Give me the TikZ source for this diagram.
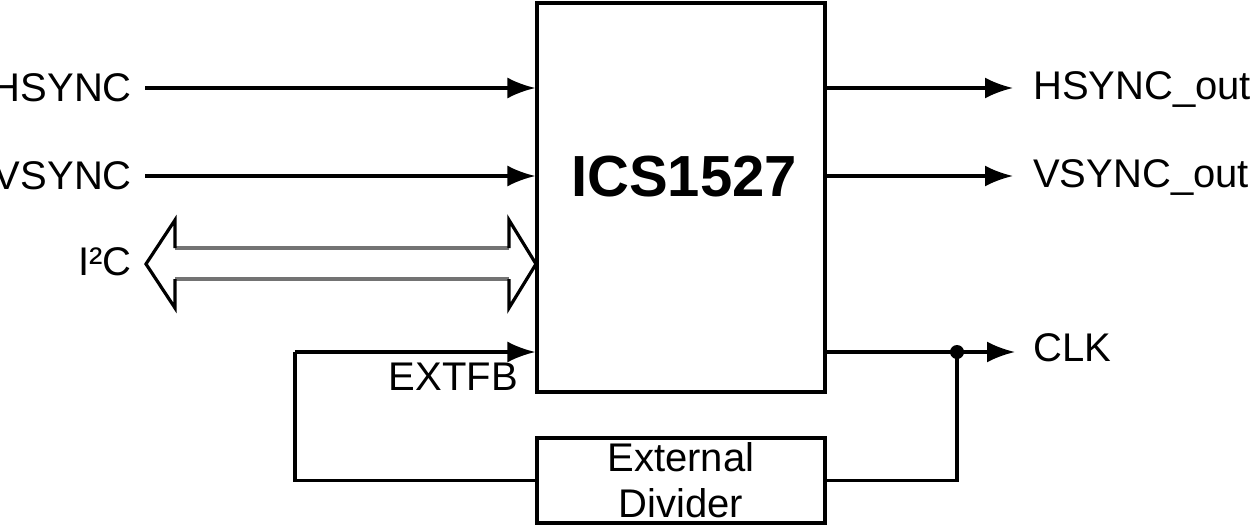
\documentclass[tikz,border=0pt]{standalone}
\usepackage{fontspec}
\setmainfont{Liberation Sans}
\usetikzlibrary{arrows.meta}
\begin{document}
\begin{tikzpicture}[x=1pt,y=-1pt,
  lbl/.style={inner sep=0pt,font=\fontsize{40}{47}\selectfont},
  blk/.style={draw,line width=3.2pt,inner sep=0pt},
  sig/.style={line width=3.2pt,-{Latex[length=28pt,width=21pt]}},
  wire/.style={line width=3.2pt},
  bus/.style={line width=3.5pt,black!55}]
\useasboundingbox (0,0) rectangle (1256,527);
% blocks
\node[blk,minimum width=288pt,minimum height=389pt] (chip) at (681,197.5) {};
\node[inner sep=0pt,font=\fontsize{58}{60}\selectfont\bfseries] (chipname) at (684,177) {ICS1527};
\node[blk,minimum width=288pt,minimum height=85pt,align=center,font=\fontsize{40}{46}\selectfont] (div) at (681,480.5) {External\\Divider};
% left labels
\node[lbl,anchor=east] (hs) at (132,88) {HSYNC};
\node[lbl,anchor=east] (vs) at (132,176) {VSYNC};
\node[lbl,anchor=east] (i2c) at (132,262) {I²C};
\node[lbl,anchor=base east] (extfb) at (518,390) {EXTFB};
% right labels
\node[lbl,anchor=west] (hso) at (1033,90) {HSYNC\_out};
\node[lbl,anchor=west] (vso) at (1033,178) {VSYNC\_out};
\node[lbl,anchor=west] (clk) at (1033,348) {CLK};
% coordinates
\coordinate (hsin) at (145,88);
\coordinate (vsin) at (145,176);
\coordinate (hsend) at (1013,88);
\coordinate (vsend) at (1013,176);
\coordinate (clkend) at (1015,352);
\coordinate (j) at (957,352);
\coordinate (fb) at (295,352);
% inputs
\draw[sig] (hsin) -- (chip.west |- hsin);
\draw[sig] (vsin) -- (chip.west |- vsin);
% outputs
\draw[sig] (chip.east |- hsend) -- (hsend);
\draw[sig] (chip.east |- vsend) -- (vsend);
\draw[wire] (chip.east |- j) -- (j);
\draw[sig] (j) -- (clkend);
\fill (j) circle (7pt);
\draw[wire] (j) -- (j |- div.east) -- (div.east);
% feedback
\draw[wire] (div.west) -- (fb |- div.west) -- (fb);
\draw[sig] (fb) -- (chip.west |- fb);
% I2C bus arrow
\draw[bus] (175,248) -- (509,248);
\draw[bus] (175,279) -- (509,279);
\draw[wire,line join=miter] (509,248) -- (509,220) -- (536,264) -- (509,308) -- (509,279);
\draw[wire,line join=miter] (175,248) -- (175,220) -- (146,264) -- (175,308) -- (175,279);
\end{tikzpicture}
\end{document}
